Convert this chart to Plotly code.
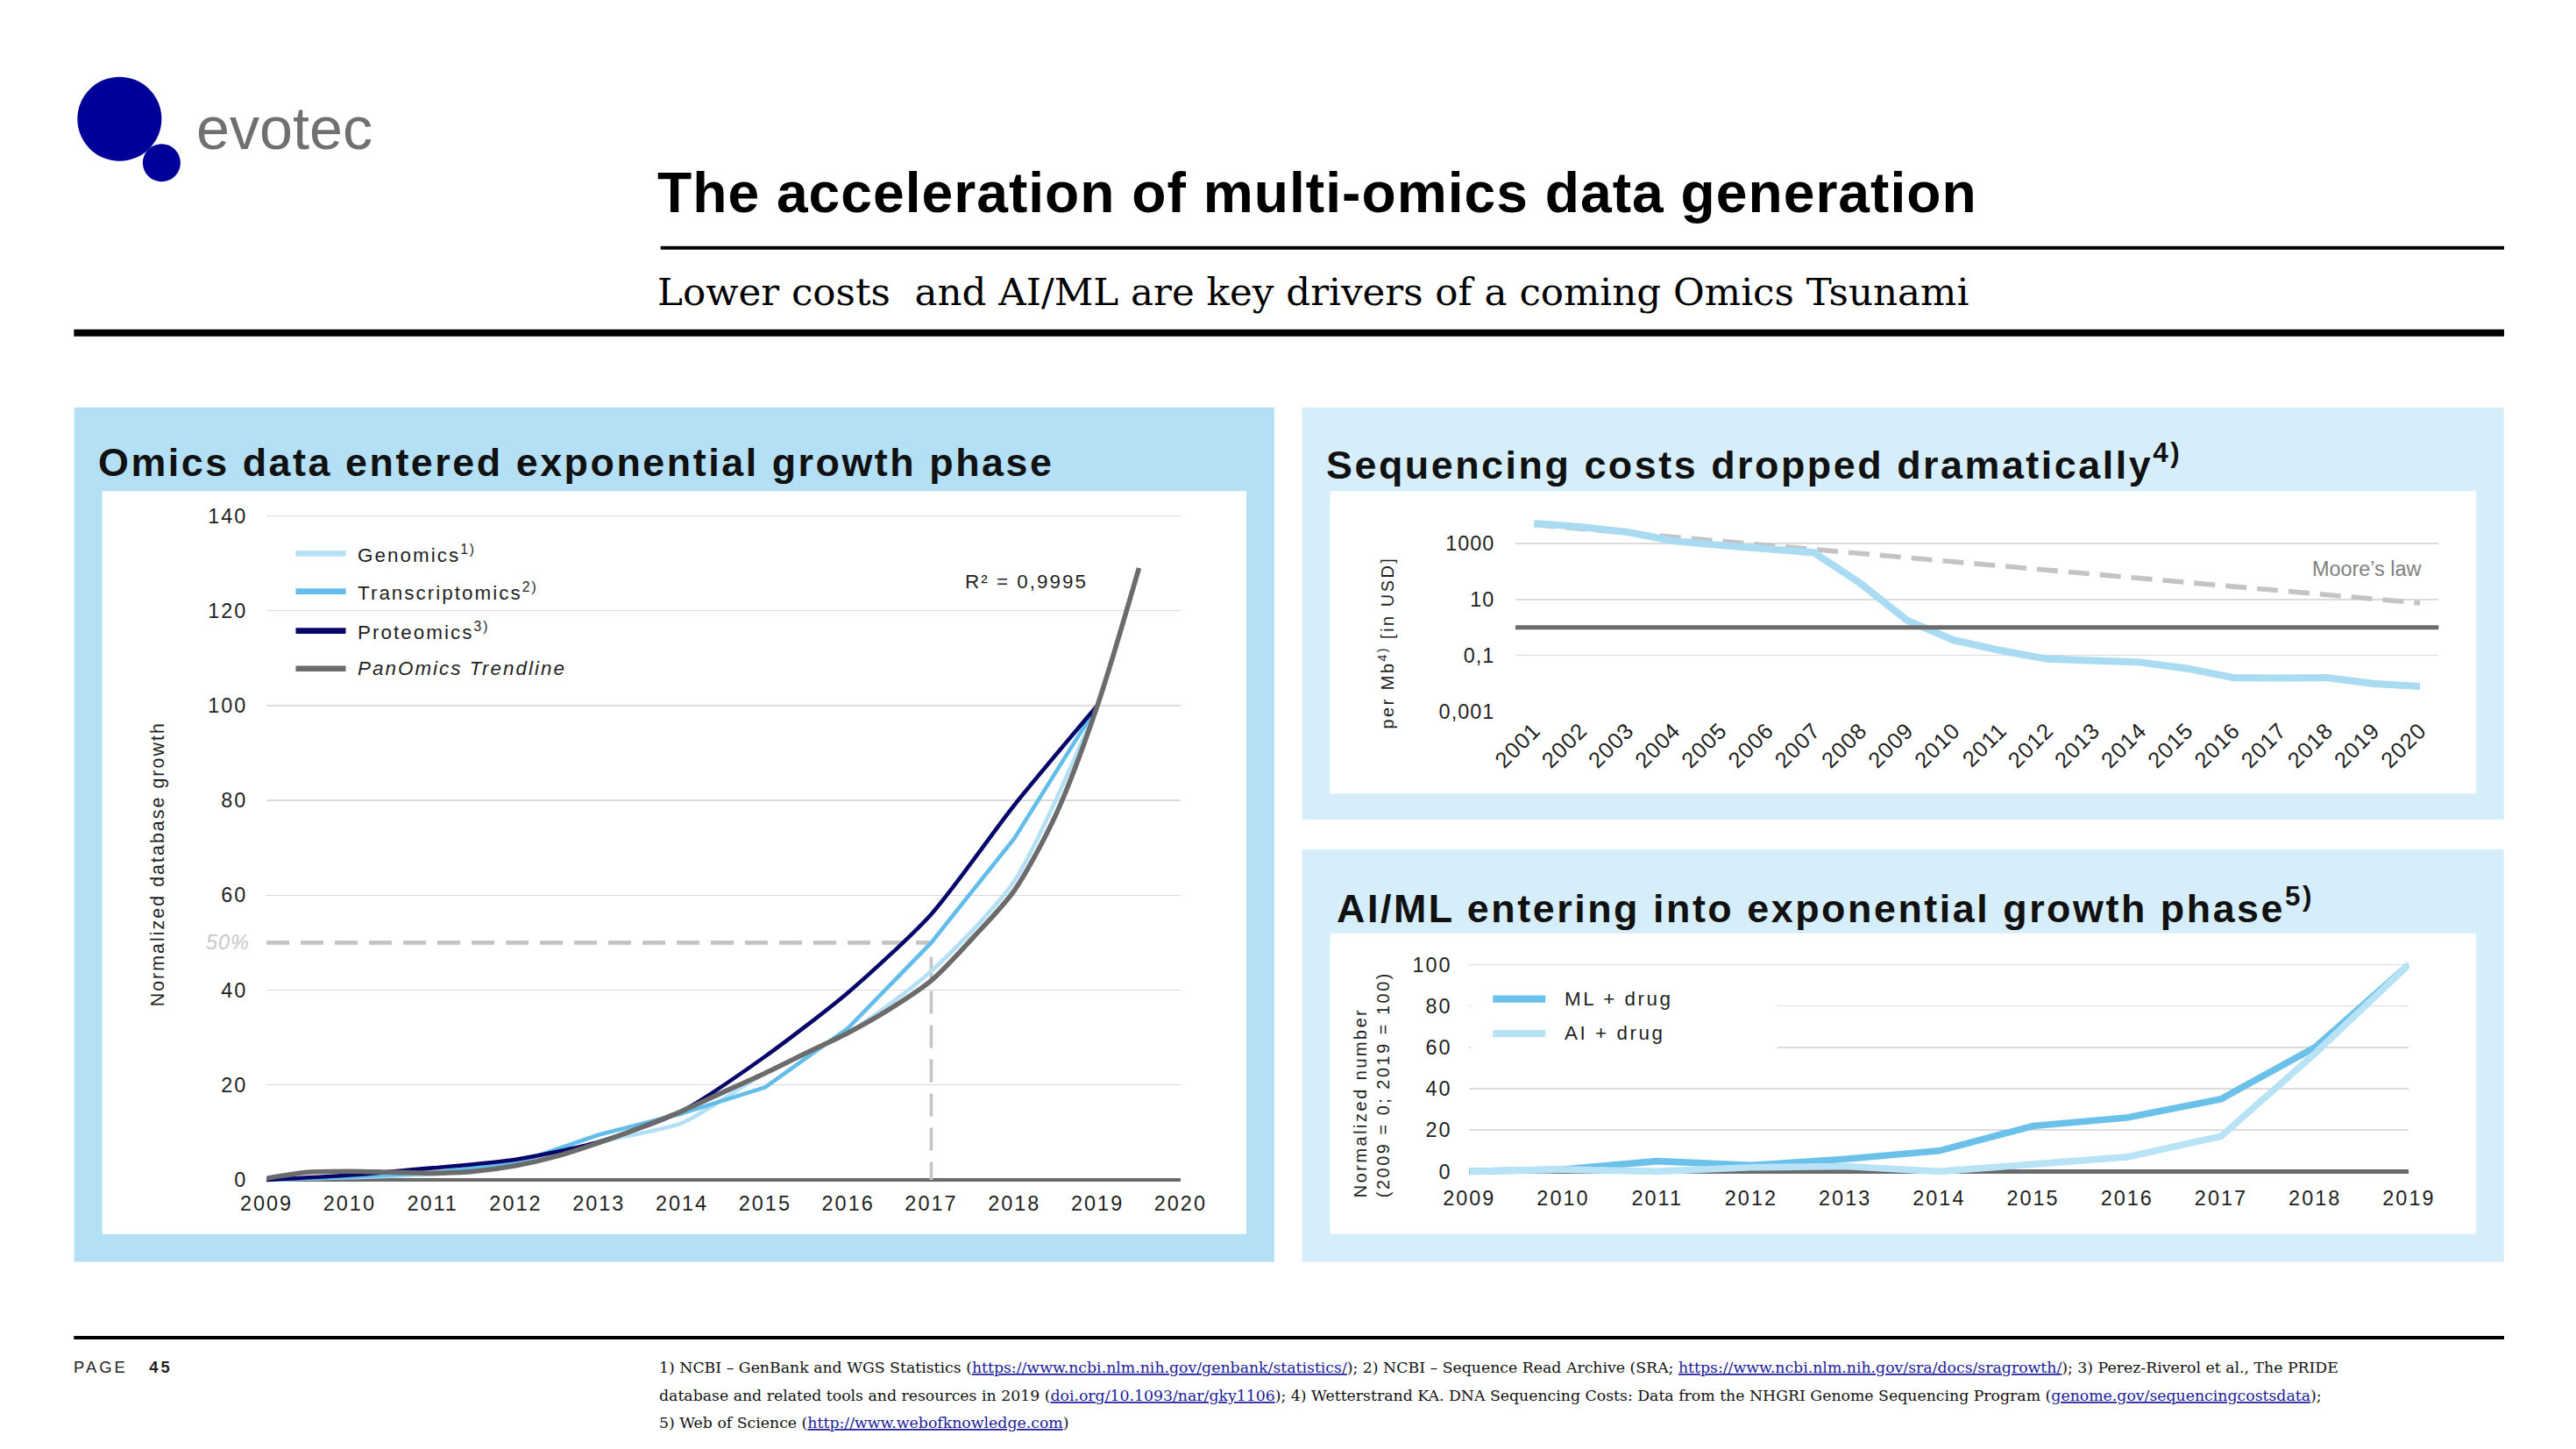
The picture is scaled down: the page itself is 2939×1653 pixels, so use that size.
import plotly.graph_objects as go

# ---------------- data ----------------
omics_years = [2009, 2010, 2011, 2012, 2013, 2014, 2015, 2016, 2017, 2018, 2019]
genomics = [0, 0.5, 1.2, 3.2, 8, 12, 22.5, 31, 44, 63, 100]
transcriptomics = [0, 0.6, 1.5, 3.5, 9.5, 14, 19.5, 32, 50, 72, 100]
proteomics = [0, 1, 2.5, 4.3, 8, 14.5, 26, 39.5, 56, 79, 100]
trend_x = [2009, 2009.5, 2010, 2010.5, 2011, 2011.5, 2012, 2012.5, 2013, 2013.5, 2014,
           2014.5, 2015, 2015.5, 2016, 2016.5, 2017, 2017.5, 2018, 2018.5, 2019, 2019.5]
trend_y = [0.3, 1.6, 1.8, 1.6, 1.4, 1.8, 3.0, 5.0, 7.8, 11, 14.5,
           18.5, 22.5, 26.8, 31, 36, 42, 51, 61, 77, 100, 129]
half_level = 50
half_year = 2017
omics_yticks = [0, 20, 40, 60, 80, 100, 120, 140]
omics_xticks = list(range(2009, 2021))

seq_years = [str(y) for y in range(2001, 2021)]
seq_cost = [5300, 4000, 2600, 1250, 880, 620, 480, 38, 1.8, 0.35, 0.15, 0.075,
            0.062, 0.057, 0.034, 0.016, 0.0155, 0.016, 0.0098, 0.0078]
moore = [4800, 3420, 2430, 1730, 1230, 877, 624, 444, 316, 225, 160, 114,
         81, 58, 41, 29, 21, 15, 10.5, 7.5]
seq_yticks = [1000, 10, 0.1, 0.001]
seq_yticktext = ["1000", "10", "0,1", "0,001"]
seq_axis_value = 1

ai_years = [2009, 2010, 2011, 2012, 2013, 2014, 2015, 2016, 2017, 2018, 2019]
ml_drug = [0, 1, 5, 3, 6, 10, 22, 26, 35, 60, 100]
ai_drug = [0, 1, 0, 2, 2.5, 0, 3.5, 7, 17, 57, 100]
ai_yticks = [0, 20, 40, 60, 80, 100]

# ---------------- helpers ----------------
W, H = 2939, 1653
OFF = 8                      # default body margin of the page
# the captured picture comes out slightly reduced around a fixed point; pre-compensate
SX, SY = 0.979, 0.9864
CX, CY = 1423.0, 696.0
K = 1 / 0.982                # size compensation for fonts / line widths


def fx(p):
    P = CX + (p - CX) / SX
    return (P - OFF) / W


def fy(p):
    P = CY + (p - CY) / SY
    return 1 - (P - OFF) / H


def S(v):
    return round(v * K, 2)


SANS = "Liberation Sans, Arial, sans-serif"
SERIF = "DejaVu Serif, Georgia, serif"


def ls(text, s):
    return f"<span style='letter-spacing:{S(s)}px'>{text}</span>"


C_GEN = "#b3e0f5"
C_TRA = "#63bdea"
C_PRO = "#06066a"
C_TREND = "#6b6b6b"
C_ML = "#6cc1eb"
C_AI = "#b8e2f6"
C_SEQ = "#a9dbf3"
C_MOORE = "#c4c4c4"
C_DASH = "#c4c4c4"
GRID = "#dcdcdc"
TXT = "#1f1f1f"

fig = go.Figure()


def line_trace(x, y, ax, color, width, dash=None, shape="linear", smoothing=None):
    ln = dict(color=color, width=S(width), shape=shape)
    if dash:
        ln["dash"] = dash
    if smoothing is not None:
        ln["smoothing"] = smoothing
    fig.add_trace(go.Scatter(x=x, y=y, mode="lines", line=ln, xaxis="x" + ax, yaxis="y" + ax,
                             hoverinfo="skip", showlegend=False))


# ---------------- left chart ----------------
line_trace([omics_years[0], half_year], [half_level, half_level], "", C_DASH, 4.5, dash="26px,13px")
line_trace([half_year, half_year], [half_level - 3, 0], "", C_DASH, 3.5, dash="26px,13px")
line_trace(omics_years, genomics, "", C_GEN, 4.5, shape="spline", smoothing=0.7)
line_trace(omics_years, transcriptomics, "", C_TRA, 4.5)
line_trace(omics_years, proteomics, "", C_PRO, 4.5, shape="spline", smoothing=0.7)
line_trace(trend_x, trend_y, "", C_TREND, 5.5, shape="spline", smoothing=0.8)

# ---------------- sequencing costs ----------------
line_trace(seq_years, moore, "2", C_MOORE, 5.5, dash="24px,12px")
line_trace(seq_years, seq_cost, "2", C_SEQ, 8)

# ---------------- AI / ML ----------------
line_trace(ai_years, ml_drug, "3", C_ML, 7.5)
line_trace(ai_years, ai_drug, "3", C_AI, 7.5)

tick_common = dict(ticks="outside", tickcolor="rgba(0,0,0,0)", showline=False, fixedrange=True)
tf = dict(family=SANS, size=S(23), color=TXT)

fig.update_layout(
    width=W, height=H, autosize=False, margin=dict(l=0, r=0, t=0, b=0),
    paper_bgcolor="white", plot_bgcolor="rgba(0,0,0,0)", hovermode=False, showlegend=False,
    xaxis=dict(domain=[fx(303.6), fx(1345.8)], range=[2009, 2020], anchor="y",
               tickvals=omics_xticks, ticktext=[ls(str(v), 2) for v in omics_xticks],
               ticklen=1, showgrid=False, zeroline=False, tickfont=tf, **tick_common),
    yaxis=dict(domain=[fy(1351.3), fy(583.2)], range=[-1.0, 141], anchor="x",
               tickvals=omics_yticks, ticktext=[ls(str(v), 2) for v in omics_yticks],
               ticklen=16, showgrid=True, gridcolor=GRID, gridwidth=S(1.5),
               zeroline=True, zerolinecolor=C_TREND, zerolinewidth=S(4.5), tickfont=tf, **tick_common),
    xaxis2=dict(domain=[fx(1727.7), fx(2780.3)], type="category", range=[-0.4, 19.4], anchor="y2",
                tickangle=-45, ticklen=1, ticklabelstandoff=-6, showgrid=False, zeroline=False,
                ticktext=[ls(v, 1) for v in seq_years], tickvals=seq_years,
                tickfont=dict(family=SANS, size=S(25), color=TXT), **tick_common),
    yaxis2=dict(domain=[fy(812.2), fy(588.5)], type="log", range=[-3.02, 4.0], anchor="x2",
                tickvals=seq_yticks, ticktext=[ls(t, 1) for t in seq_yticktext],
                ticklen=18, showgrid=True, gridcolor=GRID, gridwidth=S(1.5), zeroline=False,
                tickfont=tf, **tick_common),
    xaxis3=dict(domain=[fx(1675), fx(2746.5)], range=[2009, 2019], anchor="y3",
                tickvals=ai_years, ticktext=[ls(str(v), 2) for v in ai_years],
                ticklen=4, showgrid=False, zeroline=False, tickfont=tf, **tick_common),
    yaxis3=dict(domain=[fy(1342.3), fy(1096.8)], range=[-2.5, 101.5], anchor="x3",
                tickvals=ai_yticks, ticktext=[ls(str(v), 2) for v in ai_yticks],
                ticklen=14, showgrid=True, gridcolor=GRID, gridwidth=S(1.5),
                zeroline=True, zerolinecolor=C_TREND, zerolinewidth=S(4.5), tickfont=tf, **tick_common),
)

shapes = []


def rect(x0, y0, x1, y1, color, layer="below"):
    shapes.append(dict(type="rect", xref="paper", yref="paper", x0=fx(x0), x1=fx(x1),
                       y0=fy(y1), y1=fy(y0), fillcolor=color, line=dict(width=0), layer=layer))


def hline(x0, x1, y, color, width, layer="above"):
    shapes.append(dict(type="line", xref="paper", yref="paper", x0=fx(x0), x1=fx(x1),
                       y0=fy(y), y1=fy(y), line=dict(color=color, width=S(width)), layer=layer))


def circle(cx, cy, r, color):
    shapes.append(dict(type="circle", xref="paper", yref="paper", x0=fx(cx - r), x1=fx(cx + r),
                       y0=fy(cy + r), y1=fy(cy - r), fillcolor=color, line=dict(width=0)))


# panels
rect(84.3, 464.9, 1452.7, 1439.5, "#b4e0f5")
rect(116.2, 560.4, 1420.8, 1407.7, "white")
rect(1484.5, 464.9, 2854.7, 935.3, "#d6eefa")
rect(1516.4, 560.4, 2822.8, 905.3, "white")
rect(1484.5, 969.0, 2854.7, 1439.5, "#d6eefa")
rect(1516.4, 1064.7, 2822.8, 1407.7, "white")

# header / footer rules
hline(753, 2855, 283, "black", 4)
hline(84, 2855, 380, "black", 8)
hline(84, 2855, 1526, "black", 4)

# logo
circle(136, 136, 48, "#000099")
circle(184, 186, 21.5, "#000099")

# axis line at value 1 in the cost chart (crossing of the category axis)
shapes.append(dict(type="line", xref="x2 domain", yref="y2", x0=0, x1=1,
                   y0=seq_axis_value, y1=seq_axis_value,
                   line=dict(color=C_TREND, width=S(5)), layer="above"))

# legend of AI/ML chart: white backing hiding the gridlines
rect(1677, 1118, 2026, 1202, "white", layer="above")

# legend samples
for yy, col in zip([631.7, 674.8, 719.8, 762.9], [C_GEN, C_TRA, C_PRO, C_TREND]):
    hline(337, 394, yy, col, 6.5)
for yy, col in zip([1139.6, 1179.0], [C_ML, C_AI]):
    hline(1702, 1762, yy, col, 8)

fig.update_layout(shapes=shapes)

ann = []


def text(x, y, t, size, family=SANS, color=TXT, xanchor="left", yanchor="middle", angle=0):
    ann.append(dict(x=fx(x), y=fy(y), xref="paper", yref="paper", text=t, showarrow=False,
                    xanchor=xanchor, yanchor=yanchor, textangle=angle, align="left",
                    font=dict(family=family, size=S(size), color=color)))


text(222, 146, "evotec", 67, SANS, "#707070")
text(747, 220, ls("<b>The acceleration of multi-omics data generation</b>", 1.0), 63, SANS, "black")
text(747, 333, "Lower costs  and AI/ML are key drivers of a coming Omics Tsunami", 42.8, SERIF, "black")

text(110, 527, ls("<b>Omics data entered exponential growth phase</b>", 2.5), 44, SANS, "#111111")
text(1510, 527, ls("<b>Sequencing costs dropped dramatically<sup>4)</sup></b>", 2.5), 44, SANS, "#111111")
text(1522, 1033, ls("<b>AI/ML entering into exponential growth phase<sup>5)</sup></b>", 2.5), 44, SANS, "#111111")

# left chart texts
for yy, lab in zip([631.7, 674.8, 719.8, 762.9],
                   ["Genomics<sup>1)</sup>", "Transcriptomics<sup>2)</sup>",
                    "Proteomics<sup>3)</sup>", "<i>PanOmics Trendline</i>"]):
    text(405, yy, ls(lab, 2), 22)
text(1098, 663.5, ls("R² = 0,9995", 2), 22)
ann.append(dict(x=fx(287), y=half_level, xref="paper", yref="y", text=ls("<i>50%</i>", 1),
                showarrow=False, xanchor="right", yanchor="middle",
                font=dict(family=SANS, size=S(23), color="#c8c8c8")))
text(180, 986, ls("Normalized database growth", 2), 21, angle=-90, xanchor="center")

# sequencing chart texts
text(1580, 733.5, ls("per Mb<sup>4)</sup> [in USD]", 2.5), 19.5, angle=-90, xanchor="center")
text(2763, 649, "Moore’s law", 23, SANS, "#808080", xanchor="right")

# AI/ML texts
text(1564, 1237, ls("Normalized number<br>(2009 = 0; 2019 = 100)", 2.5), 19.5, angle=-90, xanchor="center")
text(1782, 1139.6, ls("ML + drug", 2.5), 22)
text(1782, 1179.0, ls("AI + drug", 2.5), 22)

# footer
text(82, 1559.5, ls("PAGE   <b>45</b>", 3), 18)


def link(u):
    return f"<span style='color:#1b1b9a;text-decoration:underline'>{u}</span>"


foot1 = ("1) NCBI – GenBank and WGS Statistics (" + link("https://www.ncbi.nlm.nih.gov/genbank/statistics/")
         + "); 2) NCBI – Sequence Read Archive (SRA; " + link("https://www.ncbi.nlm.nih.gov/sra/docs/sragrowth/")
         + "); 3) Perez-Riverol et al., The PRIDE")
foot2 = ("database and related tools and resources in 2019 (" + link("doi.org/10.1093/nar/gky1106")
         + "); 4) Wetterstrand KA. DNA Sequencing Costs: Data from the NHGRI Genome Sequencing Program ("
         + link("genome.gov/sequencingcostsdata") + ");")
foot3 = "5) Web of Science (" + link("http://www.webofknowledge.com") + ")"
text(749, 1559.5, foot1, 17.0, SERIF, "#111111")
text(749, 1591.4, foot2, 17.0, SERIF, "#111111")
text(749, 1623.3, foot3, 17.0, SERIF, "#111111")

fig.update_layout(annotations=ann)

fig.write_html("out.html", config={"staticPlot": True, "responsive": False, "displayModeBar": False})
